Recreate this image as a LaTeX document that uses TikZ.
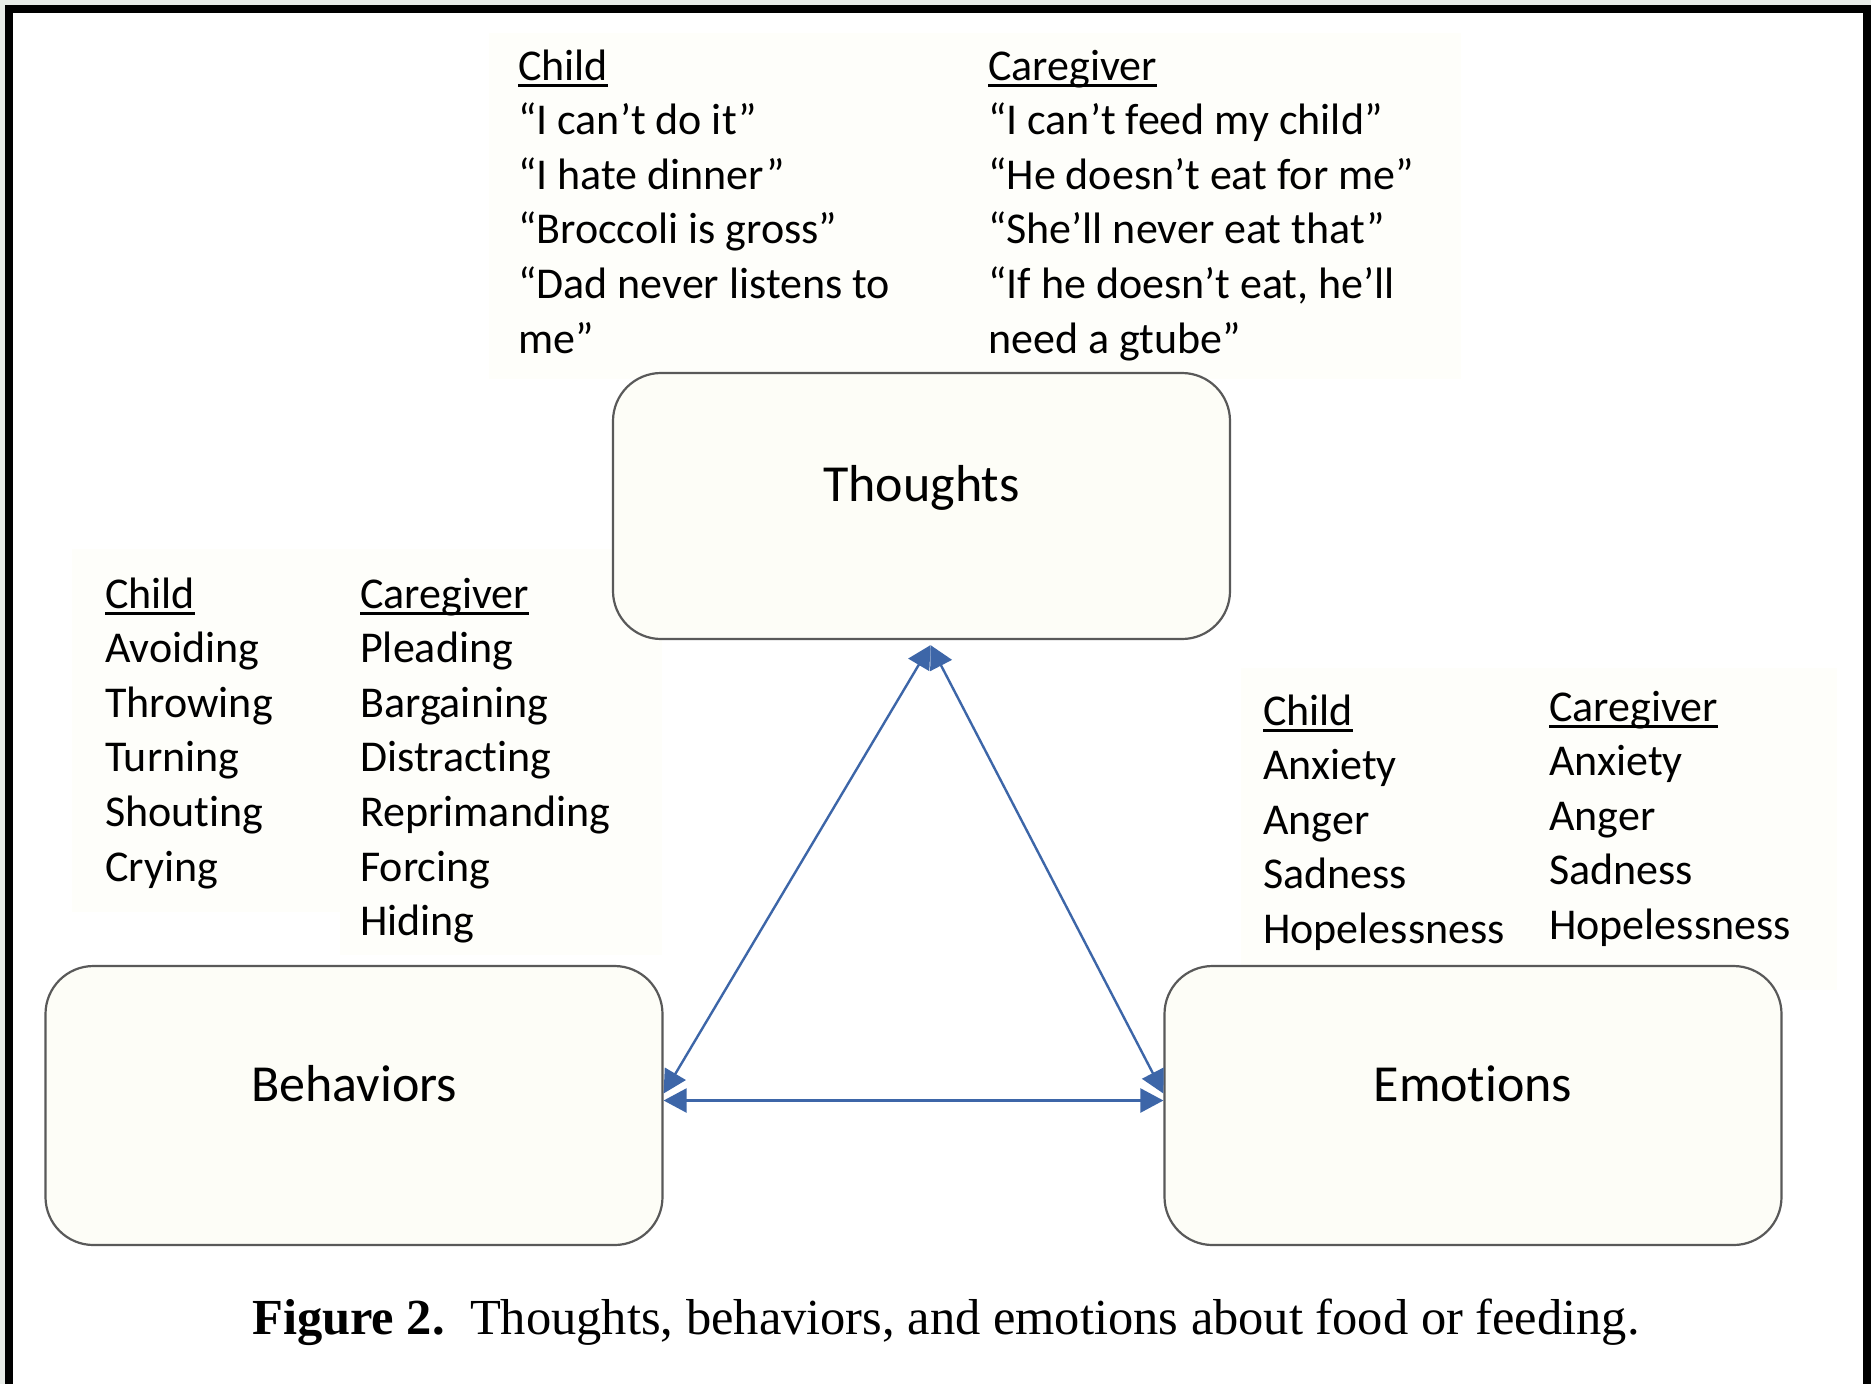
\documentclass[tikz,border=0pt]{standalone}
\usepackage{fontspec}
\setmainfont{Carlito}[Ligatures={NoCommon}]
\newfontfamily\capfont{Liberation Serif}
\usetikzlibrary{arrows.meta,calc}
\definecolor{cream}{HTML}{FDFDF7}
\definecolor{panel}{HTML}{FEFEFA}
\definecolor{edge}{HTML}{595959}
\definecolor{arrowblue}{HTML}{3D66A8}
\definecolor{outer}{HTML}{E8ECE8}
\newcommand{\ulx}[1]{{\setbox0\hbox{#1}\rlap{\rule[-6.5pt]{\wd0}{2.4pt}}\box0}}
\begin{document}
\begin{tikzpicture}[x=1pt,y=-1pt,
  box/.style={draw=edge,line width=2.2pt,fill=cream,rounded corners=48pt,
    minimum width=617pt,minimum height=279pt,inner sep=0pt},
  lbl/.style={font=\fontsize{52}{62}\selectfont,inner sep=0pt},
  item/.style={font=\fontsize{44}{54.6}\selectfont,anchor=base west,inner sep=0pt},
  link/.style={draw=arrowblue,line width=2.4pt,
    {Triangle[length=23pt,width=24pt]}-{Triangle[length=23pt,width=24pt]}},
]
\useasboundingbox (0,0) rectangle (1871,1384);
% frame
\fill[outer] (0,0) rectangle (1871,1384);
\fill[black] (5,5) rectangle (1871,1384);
\fill[white] (13,13) rectangle (1863,1384);
% faint panels behind the lists
\fill[panel] (489,33) rectangle (1461,379);
\fill[panel] (72,549) rectangle (340,912);
\fill[panel] (340,549) rectangle (662,955);
\fill[panel] (1241,668) rectangle (1837,990);
% boxes
\node[box,minimum height=266pt] (thoughts) at (921.5,506) {};
\node[box] (behav) at (354,1105.5) {};
\node[box] (emot) at (1473,1105.5) {};
\node[lbl] (tl) at (921.5,488) {Thoughts};
\node[lbl] (bl) at (354,1084) {Behaviors};
\node[lbl] (el) at (1473,1084) {Emotions};
% lists
\foreach \t [count=\i] in {{\ulx{Child}},{“I can’t do it”},{“I hate dinner”},{“Broccoli is gross”},{“Dad never listens to},{me”}}
  \node[item] (tc\i) at (518,80+54.6*\i-54.6) {\t};
\foreach \t [count=\i] in {{\ulx{Caregiver}},{“I can’t feed my child”},{“He doesn’t eat for me”},{“She’ll never eat that”},{“If he doesn’t eat, he’ll},{need a gtube”}}
  \node[item] (tg\i) at (988,80+54.6*\i-54.6) {\t};
\foreach \t [count=\i] in {{\ulx{Child}},Avoiding,Throwing,Turning,Shouting,Crying}
  \node[item] (bc\i) at (105,608+54.6*\i-54.6) {\t};
\foreach \t [count=\i] in {{\ulx{Caregiver}},Pleading,Bargaining,Distracting,Reprimanding,Forcing,Hiding}
  \node[item] (bg\i) at (360,608+54.6*\i-54.6) {\t};
\foreach \t [count=\i] in {{\ulx{Child}},Anxiety,Anger,Sadness,Hopelessness}
  \node[item] (ec\i) at (1263,725+54.6*\i-54.6) {\t};
\foreach \t [count=\i] in {{\ulx{Caregiver}},Anxiety,Anger,Sadness,Hopelessness}
  \node[item] (eg\i) at (1549,721+54.6*\i-54.6) {\t};
% connectors
\coordinate (ttip) at ($(thoughts.south)+(9,5)$);
\coordinate (btip) at ($(behav.east)+(0,-12)$);
\coordinate (etip) at ($(emot.west)+(0,-12)$);
\coordinate (hl) at ($(behav.east)+(0,-5)$);
\coordinate (hr) at ($(emot.west)+(0,-5)$);
\draw[link] (ttip) -- (btip);
\draw[link] (ttip) -- (etip);
\draw[link] (hl) -- (hr);
% caption
\node[anchor=base,inner sep=0pt,font=\capfont\fontsize{50.5}{60}\selectfont] (cap) at (946,1334)
  {\textbf{Figure 2.}\hspace{0.5em}Thoughts, behaviors, and emotions about food or feeding.};
\end{tikzpicture}
\end{document}
